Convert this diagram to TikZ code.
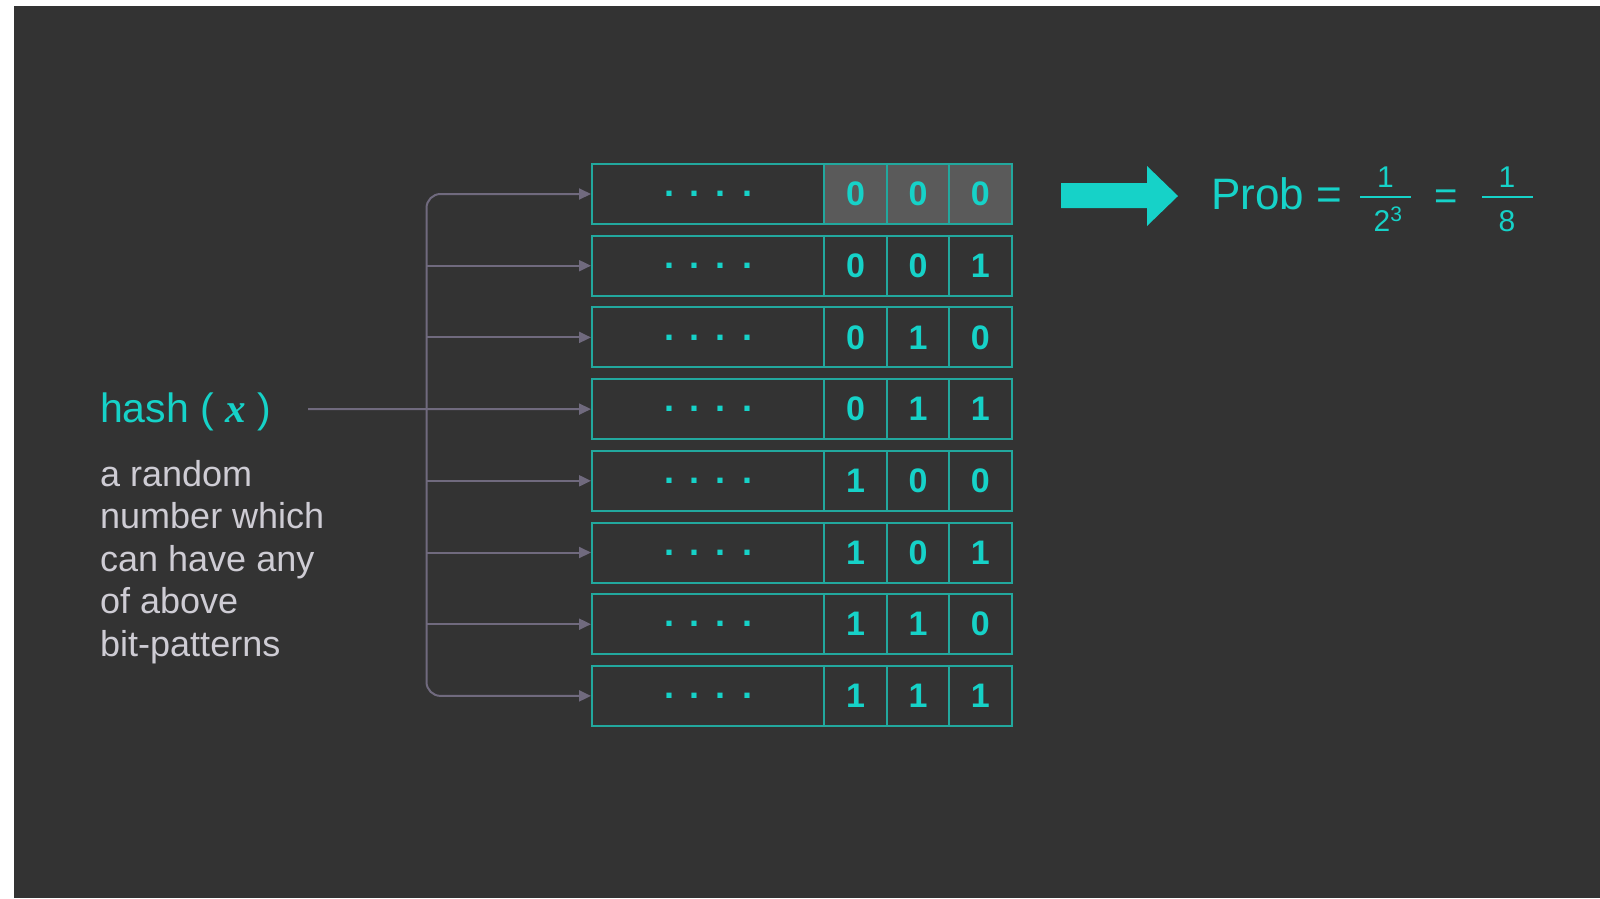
\documentclass[tikz,border=0pt]{standalone}
\usepackage{fontspec}
\setmainfont{Liberation Sans}
\newfontfamily\varfont{Liberation Serif}
\definecolor{hbg}{RGB}{51,51,51}
\definecolor{hcyan}{RGB}{22,210,200}
\definecolor{hteal}{RGB}{34,168,158}
\definecolor{hlink}{RGB}{112,106,126}
\definecolor{hcell}{RGB}{90,90,90}
\definecolor{htext}{RGB}{206,204,212}
\usetikzlibrary{arrows.meta,positioning}

\begin{document}
\begin{tikzpicture}[x=1pt, y=-1pt,
  dotbox/.style={
    rectangle, draw=hteal, line width=2pt,
    minimum width=232pt, minimum height=60pt, inner sep=0pt,
    text=hcyan, font=\fontsize{36}{36}\selectfont\bfseries
  },
  bitbox/.style={
    rectangle, draw=hteal, line width=2pt,
    minimum width=62.4pt, minimum height=60pt, inner sep=0pt,
    text=hcyan, font=\fontsize{34}{34}\selectfont\bfseries
  },
  link/.style={->, >={Triangle[length=12pt,width=11pt]}, line width=2pt,
    draw=hlink, rounded corners=14pt},
  cyantext/.style={inner sep=0pt, text=hcyan}
]
\fill[white] (0,0) rectangle (1600,898);
\fill[hbg] (14,6) rectangle (1600,898);

\foreach \a/\b/\c [count=\i] in {0/0/0,0/0/1,0/1/0,0/1/1,1/0/0,1/0/1,1/1/0,1/1/1} {
  \pgfmathsetmacro\ry{194+71.7*(\i-1)}
  \ifnum\i=1 \def\cf{hcell}\else\def\cf{hbg}\fi
  \node[dotbox] (row\i) at (708,\ry) {.\hspace{16pt}.\hspace{16pt}.\hspace{16pt}.\hspace{6pt}};
  \node[bitbox, fill=\cf] (row\i a) at (855.6,\ry) {\a};
  \node[bitbox, fill=\cf] (row\i b) at (918,\ry) {\b};
  \node[bitbox, fill=\cf] (row\i c) at (980.4,\ry) {\c};
}

\node[cyantext, anchor=base west, font=\fontsize{41}{41}\selectfont] (hash) at (100,422)
  {hash ( {\varfont\bfseries\itshape x} )};
\node[anchor=north west, inner sep=0pt, align=left, text=htext,
  font=\fontsize{36}{42.5}\selectfont] (desc) at (100,460)
  {a random\\number which\\can have any\\of above\\bit-patterns};

\coordinate (spine) at (426.5,0);
\coordinate (hashend) at (308,409);
\draw[link, <->] (row1.west) -- (spine |- row1.west) -- (spine |- row8.west) -- (row8.west);
\foreach \i in {2,3,5,6,7}
  \draw[link] (spine |- row\i.west) -- (row\i.west);
\draw[link] (hashend) -- (row4.west);

\fill[hcyan] (1061,183) -- (1147,183) -- (1147,166) -- (1178,196) -- (1147,226)
  -- (1147,208) -- (1061,208) -- cycle;

\node[cyantext, anchor=base west, font=\fontsize{44}{44}\selectfont] (prob) at (1211,209) {Prob =};
\node[cyantext, anchor=base, font=\fontsize{30}{30}\selectfont] (num1) at (1385.5,187) {1};
\node[cyantext, anchor=base, font=\fontsize{30}{30}\selectfont] (den1) at (1388,231) {2\textsuperscript{3}};
\draw[hcyan, line width=2pt] (1360,196.5) -- (1411,196.5);
\node[cyantext, anchor=base west, font=\fontsize{40}{40}\selectfont] (eq2) at (1434,209) {=};
\node[cyantext, anchor=base, font=\fontsize{30}{30}\selectfont] (num2) at (1507,187) {1};
\node[cyantext, anchor=base, font=\fontsize{30}{30}\selectfont] (den2) at (1507,231) {8};
\draw[hcyan, line width=2pt] (1482,196.5) -- (1533,196.5);
\end{tikzpicture}
\end{document}
